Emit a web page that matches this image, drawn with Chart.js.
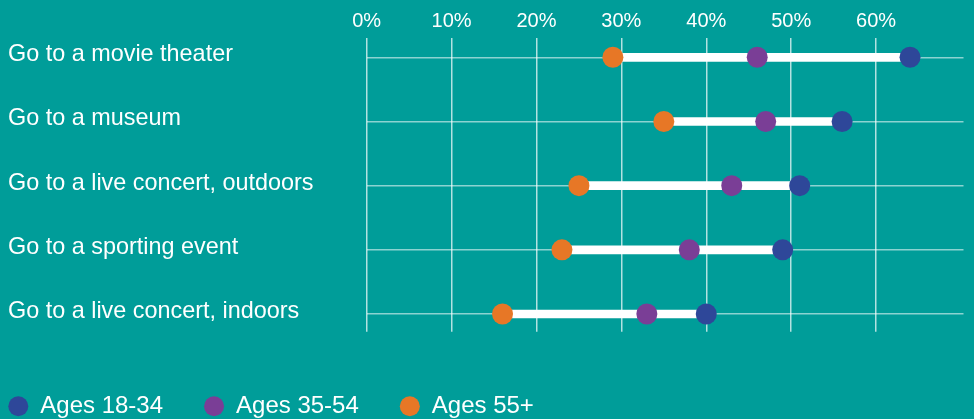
<!DOCTYPE html>
<html>
<head>
<meta charset="utf-8">
<script src="https://cdn.jsdelivr.net/npm/chart.js@4.4.1/dist/chart.umd.min.js"></script>
<style>
  html, body { margin: 0; padding: 0; background: #009d99; }
  #wrap { width: 974px; height: 419px; position: relative; }
</style>
</head>
<body>
<div id="wrap"><canvas id="chart"></canvas></div>
<script>
const activities = [
  "Go to a movie theater",
  "Go to a museum",
  "Go to a live concert, outdoors",
  "Go to a sporting event",
  "Go to a live concert, indoors",
];
const ages18to34 = [64, 56, 51, 49, 40];
const ages35to54 = [46, 47, 43, 38, 33];
const ages55plus = [29, 35, 25, 23, 16];
const percentTicks = [0, 10, 20, 30, 40, 50, 60];

const FONT = "'Liberation Sans', Arial, Helvetica, sans-serif";

// one dot per activity, y is the row index
function dots(values) {
  return values.map((v, i) => ({ x: v, y: i }));
}

// white bar from the lowest to the highest value in each row
const ranges = activities.map((_, i) => {
  const vals = [ages18to34[i], ages35to54[i], ages55plus[i]];
  return { x: [Math.min(...vals), Math.max(...vals)], y: i };
});

function dotSet(label, values, color, order) {
  return {
    type: "line",
    label: label,
    data: dots(values),
    indexAxis: "y",
    showLine: false,
    pointRadius: 10.5,
    pointHoverRadius: 10.5,
    pointBorderWidth: 0,
    backgroundColor: color,
    borderColor: color,
    order: order,
  };
}

new Chart(document.getElementById("chart"), {
  type: "bar",
  data: {
    datasets: [
      dotSet("Ages 18-34", ages18to34, "#2e4799", 0),
      dotSet("Ages 35-54", ages35to54, "#7a3e96", 1),
      dotSet("Ages 55+", ages55plus, "#e77726", 2),
      {
        type: "bar",
        label: "range",
        data: ranges,
        indexAxis: "y",
        backgroundColor: "#ffffff",
        barThickness: 8,
        borderSkipped: false,
        order: 3,
      },
    ],
  },
  options: {
    responsive: true,
    maintainAspectRatio: false,
    animation: false,
    indexAxis: "y",
    layout: { padding: { left: 8, right: 7.3, top: 0, bottom: 12.3 } },
    plugins: {
      tooltip: { enabled: false },
      legend: {
        position: "bottom",
        align: "start",
        labels: {
          filter: (item) => item.text !== "range",
          usePointStyle: true,
          pointStyle: "circle",
          pointStyleWidth: 20,
          boxHeight: 14.14,
          padding: 41,
          color: "#ffffff",
          font: { family: FONT, size: 24 },
        },
      },
    },
    scales: {
      x: {
        type: "linear",
        position: "top",
        min: 0,
        max: 70.3,
        afterBuildTicks: (scale) => {
          scale.ticks = percentTicks.map((v) => ({ value: v }));
        },
        afterFit: (scale) => { scale.height = 38.3; },
        ticks: {
          color: "#ffffff",
          font: { family: FONT, size: 20 },
          padding: 4.5,
          callback: (v) => v + "%",
        },
        grid: { color: "rgba(255,255,255,0.7)", lineWidth: 1.5, drawTicks: false },
        border: { display: false },
      },
      y: {
        type: "linear",
        reverse: true,
        offset: false,
        min: -0.296,
        max: 4.276,
        afterBuildTicks: (scale) => {
          scale.ticks = activities.map((_, i) => ({ value: i }));
        },
        afterFit: (scale) => { scale.width = 358.7; },
        ticks: {
          color: "#ffffff",
          font: { family: FONT, size: 23.4 },
          crossAlign: "far",
          padding: 0,
          labelOffset: -2.5,
          callback: (v) => activities[v],
        },
        grid: { offset: false, color: "rgba(255,255,255,0.55)", lineWidth: 1.5, drawTicks: false },
        border: { display: false },
      },
    },
  },
  plugins: [{
    id: "legendPlacement",
    afterLayout(chart) {
      // legend sits lower and further left than the default box placement
      chart.legend.top += 21.6;
      chart.legend.bottom += 21.6;
      chart.legend.left = -32.7;
    },
  }],
});
</script>
</body>
</html>
